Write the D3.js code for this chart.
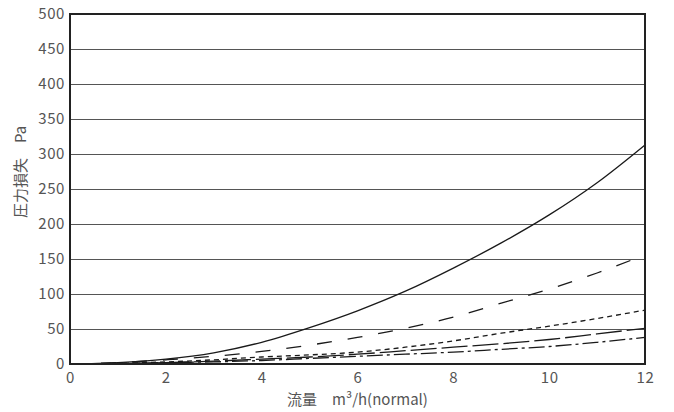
<!DOCTYPE html>
<html>
<head>
<meta charset="utf-8">
<script src="https://cdn.jsdelivr.net/npm/d3@7"></script>
<style>
  html, body { margin: 0; padding: 0; background: #fff; }
  svg { display: block; }
  .tick text { font-family: "Noto Sans CJK JP", "Noto Sans", sans-serif; font-size: 15px; fill: #555; letter-spacing: 0.6px; }
</style>
</head>
<body>
<svg id="chart" width="674" height="412"></svg>
<script>
// Flow rate (m3/h normal) sample points
const flow = [0, 1, 2, 3, 4, 5, 6, 7, 8, 9, 10, 11, 12];

// Pressure loss (Pa) for each curve
const lossSolid    = [0, 2, 7, 16, 31, 52, 76, 104, 137, 173, 213, 259, 313];
const lossDash     = [0, 2, 6, 11, 18, 27, 38, 51, 67, 87, 107, 130, 156];
const lossShort    = [0, 1, 3, 6, 10, 13, 17, 24, 33, 44, 54, 65, 77];
const lossLong     = [0, 1, 2, 4, 7, 10, 14, 19, 24, 29, 35, 43, 51];
const lossDashDot  = [0, 0.5, 2, 3, 5, 8, 11, 14, 17, 21, 25, 31, 38];

const xTicks = [0, 2, 4, 6, 8, 10, 12];
const yTicks = [0, 50, 100, 150, 200, 250, 300, 350, 400, 450, 500];

const xTitle = "流量\u3000m³/h(normal)";
const yTitle = "圧力損失\u3000Pa";

const series = [
  { values: lossSolid,   dash: null },
  { values: lossDash,    dash: "15,16" },
  { values: lossShort,   dash: "5,4" },
  { values: lossLong,    dash: "26,5" },
  { values: lossDashDot, dash: "16,4,3,4" }
];

const margin = { left: 70, top: 14, right: 29, bottom: 48 };
const svg = d3.select("#chart");
const W = +svg.attr("width"), H = +svg.attr("height");
const w = W - margin.left - margin.right;
const h = H - margin.top - margin.bottom;

const x = d3.scaleLinear().domain([0, 12]).range([0, w]);
const y = d3.scaleLinear().domain([0, 500]).range([h, 0]);

const g = svg.append("g").attr("transform", `translate(${margin.left},${margin.top})`);

// Horizontal grid and y tick labels
const yAxis = g.append("g")
  .call(d3.axisLeft(y).tickValues(yTicks).tickSizeInner(-w).tickSizeOuter(0).tickPadding(5));
yAxis.select(".domain").remove();
yAxis.selectAll(".tick line").attr("stroke", "#555").attr("stroke-width", 1);
yAxis.selectAll(".tick text").attr("dy", "0.28em");

// x tick labels
const xAxis = g.append("g").attr("transform", `translate(0,${h})`)
  .call(d3.axisBottom(x).tickValues(xTicks).tickSize(0).tickPadding(8));
xAxis.select(".domain").remove();

// Curves
const line = d3.line()
  .x((d, i) => x(flow[i]))
  .y(d => y(d))
  .curve(d3.curveMonotoneX);

g.selectAll("path.curve")
  .data(series)
  .join("path")
  .attr("class", "curve")
  .attr("d", d => line(d.values))
  .attr("fill", "none")
  .attr("stroke", "#1a1a1a")
  .attr("stroke-width", 1.3)
  .attr("stroke-dasharray", d => d.dash);

// Plot frame
g.append("rect")
  .attr("x", 0).attr("y", 0).attr("width", w).attr("height", h)
  .attr("fill", "none").attr("stroke", "#222").attr("stroke-width", 2);

// Axis titles
svg.append("text")
  .attr("x", margin.left + w / 2).attr("y", 405)
  .attr("text-anchor", "middle")
  .attr("font-family", "\"Noto Sans CJK JP\", sans-serif")
  .attr("font-size", 15).attr("fill", "#555")
  .text(xTitle);

svg.append("text")
  .attr("transform", "translate(26,172) rotate(-90)")
  .attr("text-anchor", "middle")
  .attr("font-family", "\"Noto Sans CJK JP\", sans-serif")
  .attr("font-size", 15).attr("fill", "#555")
  .text(yTitle);
</script>
</body>
</html>
